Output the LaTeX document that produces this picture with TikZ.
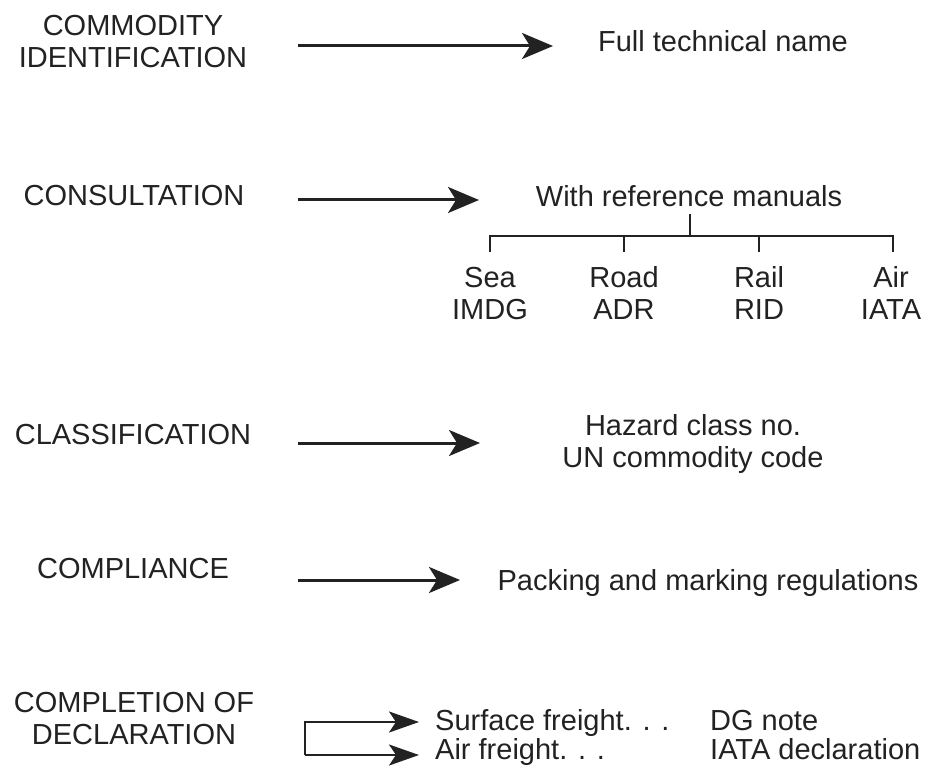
\documentclass[tikz,border=0pt]{standalone}
\usepackage{fontspec}
\setmainfont{Liberation Sans}
\usetikzlibrary{arrows.meta}
\definecolor{ink}{HTML}{222222}
\begin{document}
\begin{tikzpicture}[x=1pt,y=-1pt,
  txt/.style={inner sep=0pt, text=ink, font=\fontsize{29}{32}\selectfont, align=center, anchor=base},
  bigarrow/.style={draw=ink, line width=3pt, -{Stealth[length=31pt,width=26pt,inset=8pt]}},
  smallarrow/.style={draw=ink, line width=2.5pt, -{Stealth[length=30pt,width=21pt,inset=7pt]}},
  treeline/.style={draw=ink, line width=2pt}]
\fill[white] (0,0) rectangle (925,767);
\useasboundingbox (0,0) rectangle (925,767);

% left column (multi-line nodes: base = last line's baseline)
\node[txt] (l1) at (133,68) {COMMODITY\\IDENTIFICATION};
\node[txt] (l2) at (134,206) {CONSULTATION};
\node[txt] (l3) at (133,444) {CLASSIFICATION};
\node[txt] (l4) at (133,578) {COMPLIANCE};
\node[txt] (l5) at (134,744) {COMPLETION OF\\DECLARATION};

% right column
\node[txt] (r1) at (723,52) {Full technical name};
\node[txt] (r2) at (689,207) {With reference manuals};
\node[txt] (sea) at (490,319) {Sea\\IMDG};
\node[txt] (road) at (624,319) {Road\\ADR};
\node[txt] (rail) at (759,319) {Rail\\RID};
\node[txt] (air) at (891,319) {Air\\IATA};
\node[txt] (r3) at (693,467) {Hazard class no.\\UN commodity code};
\node[txt] (r4) at (708,590) {Packing and marking regulations};
\node[txt, anchor=base west] (sf) at (435,730) {Surface freight. . .};
\node[txt, anchor=base west] (af) at (435,759) {Air freight. . .};
\node[txt, anchor=base west] (dg) at (710,730) {DG note};
\node[txt, anchor=base west] (ia) at (710,759) {IATA declaration};

% arrow coordinates
\coordinate (a1s) at (298,46);  \coordinate (a1e) at (553,46);
\coordinate (a2s) at (298,200); \coordinate (a2e) at (479,200);
\coordinate (a3s) at (298,443); \coordinate (a3e) at (480,443);
\coordinate (a4s) at (298,580); \coordinate (a4e) at (460,580);
\draw[bigarrow] (a1s) -- (a1e);
\draw[bigarrow] (a2s) -- (a2e);
\draw[bigarrow] (a3s) -- (a3e);
\draw[bigarrow] (a4s) -- (a4e);

% tree
\coordinate (stemtop) at (690,214);
\coordinate (stembot) at (690,236);
\coordinate (barl) at (490,236);
\coordinate (barr) at (893,236);
\draw[treeline] (stemtop) -- (stembot);
\draw[treeline, line cap=rect] (barl) -- (barr);
\foreach \x in {490,624,759,893}{
  \draw[treeline] (\x,235) -- (\x,252);
}

% bracket
\coordinate (bt) at (305,722);
\coordinate (bb) at (305,755);
\coordinate (bte) at (419,722);
\coordinate (bbe) at (419,755);
\draw[smallarrow] (bb) -- (bt) -- (bte);
\draw[smallarrow] (bb) -- (bbe);
\end{tikzpicture}
\end{document}
